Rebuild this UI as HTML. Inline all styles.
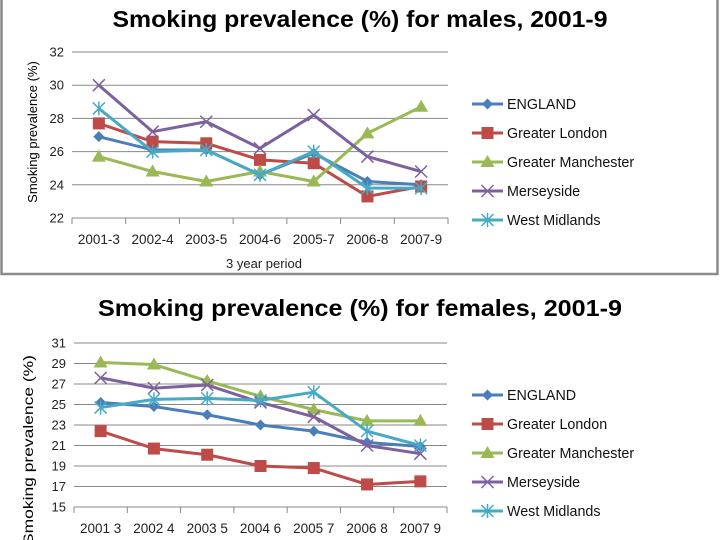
<!DOCTYPE html>
<html><head><meta charset="utf-8"><style>
body{margin:0;width:720px;height:540px;background:#fff;overflow:hidden}
svg{display:block;font-family:"Liberation Sans",sans-serif}
</style></head><body>
<svg id="svg" width="720" height="540" viewBox="0 0 720 540">
<rect x="1.5" y="-2" width="716" height="276" fill="none" stroke="#8a8a8a" stroke-width="2.5"/>
<text x="360" y="27" text-anchor="middle" font-size="23" font-weight="bold" textLength="495" lengthAdjust="spacingAndGlyphs">Smoking prevalence (%) for males, 2001-9</text>
<text x="360" y="316" text-anchor="middle" font-size="23" font-weight="bold" textLength="524" lengthAdjust="spacingAndGlyphs">Smoking prevalence (%) for females, 2001-9</text>
<text transform="translate(37,132) rotate(-90)" text-anchor="middle" font-size="13">Smoking prevalence (%)</text>
<text x="264" y="268" text-anchor="middle" font-size="13" fill="#222">3 year period</text>
<text transform="translate(33,450) rotate(-90)" text-anchor="middle" font-size="14" textLength="190" lengthAdjust="spacingAndGlyphs">Smoking prevalence (%)</text>
<g id="g1"></g><g id="g2"></g>
</svg>
<script>
const seriesNames=["ENGLAND","Greater London","Greater Manchester","Merseyside","West Midlands"];
const colors=["#4a7ebb","#be4b48","#98b954","#7d60a0","#46aac4"];
const markers=["diamond","square","triangle","x","star"];
const maleCats=["2001-3","2002-4","2003-5","2004-6","2005-7","2006-8","2007-9"];
const femaleCats=["2001 3","2002 4","2003 5","2004 6","2005 7","2006 8","2007 9"];
const maleTicks=[22,24,26,28,30,32];
const femaleTicks=[15,17,19,21,23,25,27,29,31];
const maleEngland=[26.9,26.1,26.1,24.6,25.9,24.2,24.0];
const maleLondon=[27.7,26.6,26.5,25.5,25.3,23.3,23.9];
const maleManchester=[25.7,24.8,24.2,24.8,24.2,27.1,28.7];
const maleMerseyside=[30.0,27.2,27.8,26.2,28.2,25.7,24.8];
const maleWestMidlands=[28.6,26.0,26.1,24.6,26.0,23.8,23.8];
const femaleEngland=[25.2,24.8,24.0,23.0,22.4,21.3,20.9];
const femaleLondon=[22.4,20.7,20.1,19.0,18.8,17.2,17.5];
const femaleManchester=[29.1,28.9,27.3,25.8,24.5,23.4,23.4];
const femaleMerseyside=[27.6,26.6,26.9,25.2,23.8,21.0,20.2];
const femaleWestMidlands=[24.7,25.5,25.6,25.4,26.2,22.4,21.0];
const NS="http://www.w3.org/2000/svg";
function mk(tag,attrs,parent){const e=document.createElementNS(NS,tag);for(const k in attrs)e.setAttribute(k,attrs[k]);parent.appendChild(e);return e;}
function marker(g,type,x,y,c){let e;
 if(type==="diamond"){e=mk("path",{d:`M${x} ${y-5.5}L${x+5.5} ${y}L${x} ${y+5.5}L${x-5.5} ${y}Z`,fill:c},g);}
 else if(type==="square"){e=mk("rect",{x:x-6,y:y-6,width:12,height:12,fill:c},g);}
 else if(type==="triangle"){e=mk("path",{d:`M${x} ${y-7}L${x+7} ${y+5}L${x-7} ${y+5}Z`,fill:c},g);}
 else if(type==="x"){e=mk("path",{d:`M${x-6} ${y-6}L${x+6} ${y+6}M${x+6} ${y-6}L${x-6} ${y+6}`,stroke:c,"stroke-width":1.5,fill:"none"},g);}
 else {e=mk("path",{d:`M${x-6} ${y-6}L${x+6} ${y+6}M${x+6} ${y-6}L${x-6} ${y+6}M${x} ${y-7}L${x} ${y+7}`,stroke:c,"stroke-width":1.5,fill:"none"},g);}
 
 
}
function chart(g,cfg){
 const {x0,x1,yBot,yTop,vmin,vmax,ticks,cats,data,legendY,prefix}=cfg;
 const ys=v=>yBot-(v-vmin)/(vmax-vmin)*(yBot-yTop);
 const cw=(x1-x0)/cats.length;
 const xs=i=>x0+cw*(i+0.5);
 ticks.forEach(t=>{
  const l=mk("line",{x1:x0,x2:x1,y1:ys(t),y2:ys(t),stroke:"#888","stroke-width":1},g);
  
  
  const tx=mk("text",{x:x0-8,y:ys(t)+4.5,"text-anchor":"end","font-size":13,fill:"#222"},g);tx.textContent=t;
  
  
 });
 for(let i=0;i<=cats.length;i++){const x=x0+cw*i;
  const l=mk("line",{x1:x,x2:x,y1:yBot,y2:yBot+6,stroke:"#888"},g);
  
  }
 cats.forEach((c,i)=>{const tx=mk("text",{x:xs(i),y:yBot+26,"text-anchor":"middle","font-size":13.5,fill:"#222"},g);tx.textContent=c;
  
  });
 data.forEach((d,s)=>{
  const pl=mk("polyline",{points:d.map((v,i)=>xs(i)+","+ys(v)).join(" "),fill:"none",stroke:colors[s],"stroke-width":3,"stroke-linejoin":"round"},g);
  
  
  d.forEach((v,i)=>marker(g,markers[s],xs(i),ys(v),colors[s]));
 });
 seriesNames.forEach((n,s)=>{const y=legendY+s*29;
  const lg=mk("g",{},g);
  
  
  mk("line",{x1:472,x2:503,y1:y,y2:y,stroke:colors[s],"stroke-width":3},lg);
  marker(lg,markers[s],487.5,y,colors[s]);
  const tx=mk("text",{x:507,y:y+5,"font-size":14.3,fill:"#111"},lg);tx.textContent=n;
 });
}
chart(document.getElementById("g1"),{x0:72,x1:448,yBot:218,yTop:52,vmin:22,vmax:32,ticks:maleTicks,cats:maleCats,
 data:[maleEngland,maleLondon,maleManchester,maleMerseyside,maleWestMidlands],legendY:104,prefix:"male"});
chart(document.getElementById("g2"),{x0:74,x1:447,yBot:507,yTop:343,vmin:15,vmax:31,ticks:femaleTicks,cats:femaleCats,
 data:[femaleEngland,femaleLondon,femaleManchester,femaleMerseyside,femaleWestMidlands],legendY:395,prefix:"female"});
</script>
</body></html>
